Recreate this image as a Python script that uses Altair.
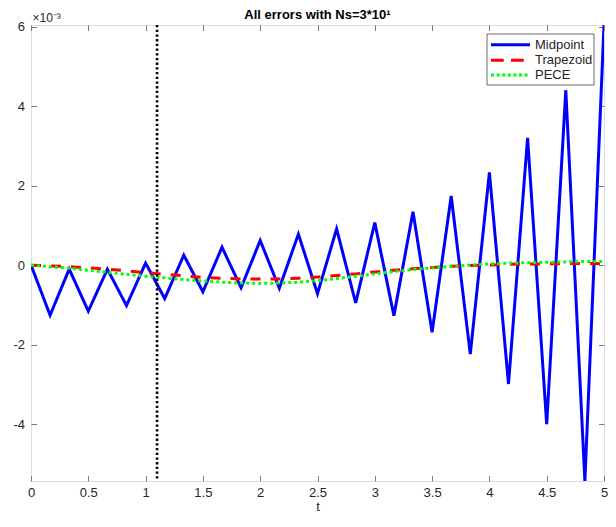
import altair as alt
import pandas as pd

# time grid (Ns = 30 steps on [0, 5])
t = [0.0, 0.1667, 0.3333, 0.5, 0.6667, 0.8333, 1.0, 1.1667, 1.3333, 1.5,
     1.6667, 1.8333, 2.0, 2.1667, 2.3333, 2.5, 2.6667, 2.8333, 3.0, 3.1667,
     3.3333, 3.5, 3.6667, 3.8333, 4.0, 4.1667, 4.3333, 4.5, 4.6667, 4.8333, 5.0]

# errors, in units of 1e-3
midpoint = [0.0, -1.26, -0.10, -1.16, -0.10, -1.02, 0.05, -0.84, 0.25, -0.67,
            0.45, -0.57, 0.62, -0.58, 0.78, -0.72, 0.91, -0.95, 1.07, -1.27,
            1.34, -1.69, 1.74, -2.24, 2.33, -2.99, 3.20, -4.00, 4.40, -5.43, 6.04]
trapezoid = [0.0, -0.02, -0.04, -0.07, -0.10, -0.14, -0.19, -0.23, -0.27, -0.31,
             -0.33, -0.35, -0.35, -0.35, -0.33, -0.30, -0.26, -0.22, -0.17, -0.13,
             -0.09, -0.06, -0.03, -0.01, 0.0, 0.02, 0.03, 0.03, 0.04, 0.04, 0.04]
pece = [0.0, -0.04, -0.08, -0.13, -0.18, -0.23, -0.28, -0.32, -0.36, -0.40,
        -0.43, -0.45, -0.46, -0.45, -0.43, -0.39, -0.34, -0.28, -0.22, -0.16,
        -0.11, -0.07, -0.03, 0.0, 0.03, 0.05, 0.06, 0.07, 0.08, 0.09, 0.09]

series_names = ["Midpoint", "Trapezoid", "PECE"]
series_colors = ["#0000FF", "#FF0000", "#00FF00"]
t_marker = 1.1

x_ticks = [0, 0.5, 1, 1.5, 2, 2.5, 3, 3.5, 4, 4.5, 5]
y_ticks = [-4, -2, 0, 2, 4, 6]
x_domain = [0, 5]
y_domain = [-5.43, 6.04]
y_exponent_label = "×10⁻³"
title_text = "All errors with Ns=3*10¹"

FONT = "Helvetica, Liberation Sans, Arial, sans-serif"
AX = "#7a7a7a"
TXT = "#262626"
TL = 5.5
W, H = 573, 456

df = pd.DataFrame({"t": t, "Midpoint": midpoint, "Trapezoid": trapezoid, "PECE": pece})
xs = alt.Scale(domain=x_domain, nice=False, zero=False)
ys = alt.Scale(domain=y_domain, nice=False, zero=False)

base = alt.Chart(df)

mid_layer = base.mark_line(color=series_colors[0], strokeWidth=3, clip=True).encode(
    x=alt.X("t:Q", scale=xs, axis=alt.Axis(
        orient="bottom", values=x_ticks, offset=-TL, tickSize=TL, domain=False,
        tickColor=AX, labelPadding=5, labelFontSize=13, labelColor=TXT, labelFont=FONT,
        labelExpr="'' + datum.value",
        title="t", titleFont=FONT, titleFontSize=13, titleFontWeight="normal",
        titleColor=TXT, titlePadding=1.5, grid=False, labelFlush=False)),
    y=alt.Y("Midpoint:Q", scale=ys, axis=alt.Axis(
        orient="left", values=y_ticks, offset=-TL, tickSize=TL, domain=False,
        tickColor=AX, labelPadding=6.5, labelFontSize=13, labelColor=TXT, labelFont=FONT,
        labelExpr="'' + datum.value", title=None, grid=False, labelFlush=False)),
)

trap_layer = base.mark_line(color=series_colors[1], strokeWidth=3, strokeDash=[10, 10],
                            clip=True).encode(
    x=alt.X("t:Q", scale=xs, axis=alt.Axis(
        orient="top", values=x_ticks, offset=-TL, tickSize=TL, domain=False,
        tickColor=AX, labels=False, title=None, grid=False)),
    y=alt.Y("Trapezoid:Q", scale=ys, axis=alt.Axis(
        orient="right", values=y_ticks, offset=-TL, tickSize=TL, domain=False,
        tickColor=AX, labels=False, title=None, grid=False)),
)

pece_layer = base.mark_line(color=series_colors[2], strokeWidth=3, strokeDash=[3, 3],
                            clip=True).encode(
    x=alt.X("t:Q", scale=xs, axis=None),
    y=alt.Y("PECE:Q", scale=ys, axis=None),
)

vline = alt.Chart(pd.DataFrame({"t": [t_marker]})).mark_rule(
    color="black", strokeWidth=2.6, strokeDash=[2.3, 2.4]).encode(
    x=alt.X("t:Q", scale=xs, axis=None))

one = pd.DataFrame({"a": [0]})
exp_text = alt.Chart(one).mark_text(
    text=y_exponent_label, align="left", baseline="alphabetic", font=FONT,
    fontSize=12, color=TXT).encode(x=alt.value(1.5), y=alt.value(-3.5))
title_mark = alt.Chart(one).mark_text(
    text=title_text, align="center", baseline="alphabetic", font=FONT,
    fontSize=13, fontWeight="bold", color="black").encode(
    x=alt.value(W / 2), y=alt.value(-6))

legend_box = alt.Chart(one).mark_rect(fill="white", stroke="#6a6a6a", strokeWidth=1).encode(
    x=alt.value(W - 117), x2=alt.value(W - 10), y=alt.value(9), y2=alt.value(60))

legend_y = [19.7, 35.2, 50.0]
legend_dash = [[1, 0], [12.7, 7.3], [3, 2.6]]
legend_layers = [legend_box]
for name, col, ly, dash in zip(series_names, series_colors, legend_y, legend_dash):
    legend_layers.append(alt.Chart(one).mark_rule(color=col, strokeWidth=3, strokeDash=dash).encode(
        x=alt.value(W - 113), x2=alt.value(W - 74), y=alt.value(ly)))
    legend_layers.append(alt.Chart(one).mark_text(
        text=name, align="left", baseline="middle", font=FONT, fontSize=13, color=TXT).encode(
        x=alt.value(W - 69), y=alt.value(ly)))

chart = alt.layer(mid_layer, trap_layer, pece_layer, vline, exp_text, title_mark,
                  *legend_layers).resolve_axis(
    x="independent", y="independent"
).properties(
    width=W, height=H,
    autosize=alt.AutoSizeParams(type="none"),
    padding={"left": 23, "top": 17, "right": 4, "bottom": 34},
).configure_view(stroke=AX, strokeWidth=1).configure(background="white")

chart.save("out.html", embed_options={"renderer": "svg", "actions": False})
